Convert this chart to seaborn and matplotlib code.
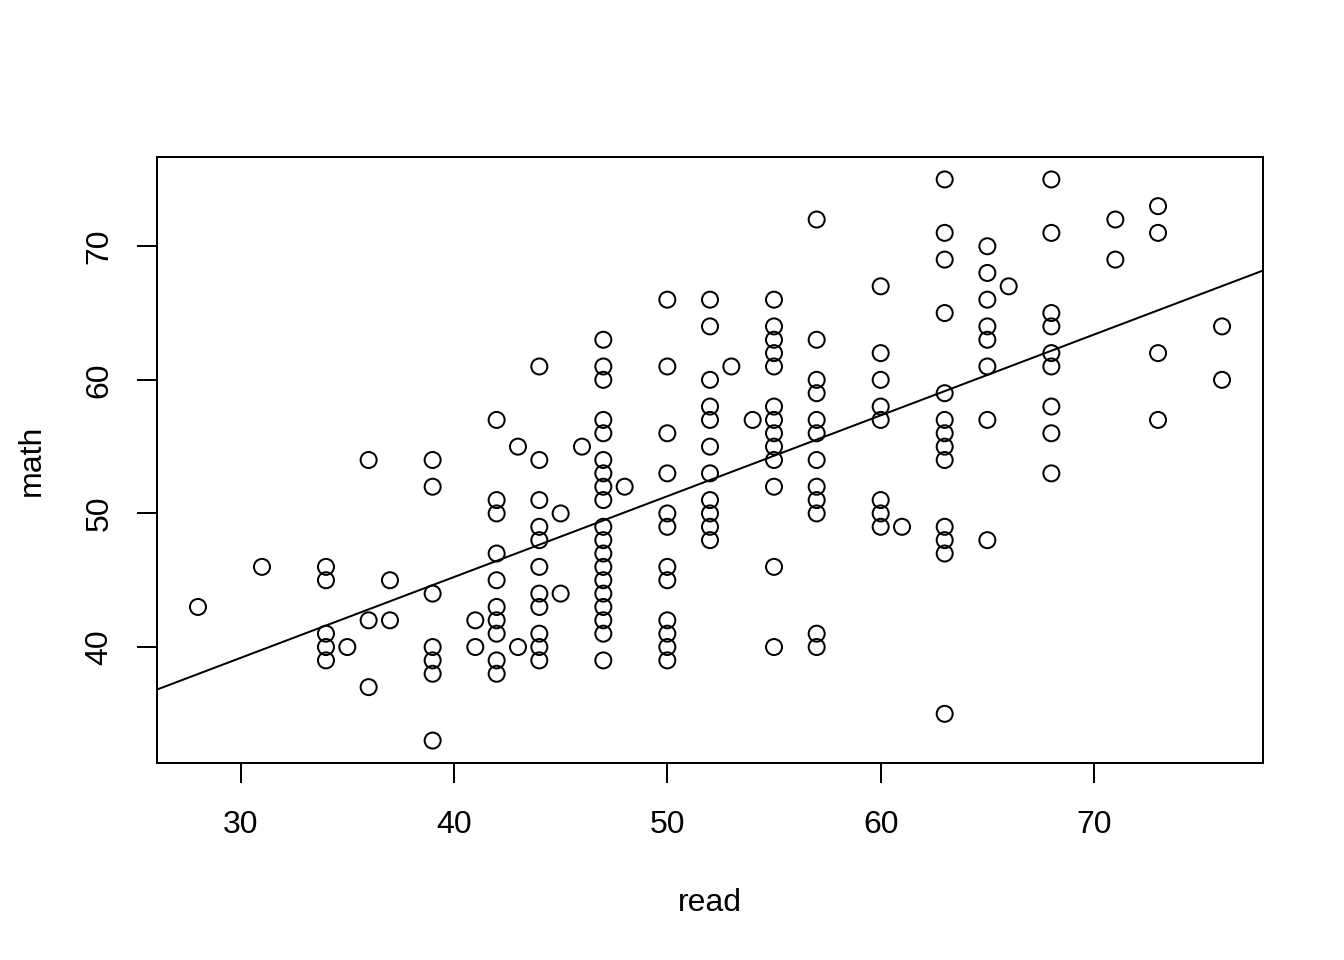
import matplotlib
matplotlib.use("Agg")
import matplotlib.pyplot as plt
import seaborn as sns
import pandas as pd

# ---- data ----
read = [28, 31,
        34, 34, 34, 34, 34,
        35,
        36, 36, 36,
        37, 37,
        39, 39, 39, 39, 39, 39, 39,
        41, 41,
        42, 42, 42, 42, 42, 42, 42, 42, 42, 42,
        43, 43,
        44, 44, 44, 44, 44, 44, 44, 44, 44, 44, 44,
        45, 45,
        46,
        47, 47, 47, 47, 47, 47, 47, 47, 47, 47, 47, 47, 47, 47, 47, 47, 47, 47, 47,
        48,
        50, 50, 50, 50, 50, 50, 50, 50, 50, 50, 50, 50,
        52, 52, 52, 52, 52, 52, 52, 52, 52, 52, 52,
        53, 54,
        55, 55, 55, 55, 55, 55, 55, 55, 55, 55, 55, 55, 55,
        57, 57, 57, 57, 57, 57, 57, 57, 57, 57, 57, 57,
        60, 60, 60, 60, 60, 60, 60, 60,
        61,
        63, 63, 63, 63, 63, 63, 63, 63, 63, 63, 63, 63, 63,
        65, 65, 65, 65, 65, 65, 65, 65,
        66,
        68, 68, 68, 68, 68, 68, 68, 68, 68,
        71, 71,
        73, 73, 73, 73,
        76, 76]
math = [43, 46,
        46, 45, 41, 40, 39,
        40,
        54, 42, 37,
        45, 42,
        54, 52, 44, 40, 39, 38, 33,
        42, 40,
        57, 51, 50, 47, 45, 43, 42, 41, 39, 38,
        55, 40,
        61, 54, 51, 49, 48, 46, 44, 43, 41, 40, 39,
        50, 44,
        55,
        63, 61, 60, 57, 56, 54, 53, 52, 51, 49, 48, 47, 46, 45, 44, 43, 42, 41, 39,
        52,
        66, 61, 56, 53, 50, 49, 46, 45, 42, 41, 40, 39,
        66, 64, 60, 58, 57, 55, 53, 51, 50, 49, 48,
        61, 57,
        66, 64, 63, 62, 61, 58, 57, 56, 55, 54, 52, 46, 40,
        72, 63, 60, 59, 57, 56, 54, 52, 51, 50, 41, 40,
        67, 62, 60, 58, 57, 51, 50, 49,
        49,
        75, 71, 69, 65, 59, 57, 56, 55, 54, 49, 48, 47, 35,
        70, 68, 66, 64, 63, 61, 57, 48,
        67,
        75, 71, 65, 64, 62, 61, 58, 56, 53,
        72, 69,
        73, 71, 62, 57,
        64, 60]

fit_intercept = 21.04
fit_slope = 0.605

x_ticks = [30, 40, 50, 60, 70]
y_ticks = [40, 50, 60, 70]

df = pd.DataFrame({"read": read, "math": math})

sns.set_style("white")
plt.rcParams["font.family"] = ["Liberation Sans", "DejaVu Sans"]
plt.rcParams["font.size"] = 12
plt.rcParams["text.color"] = "black"
plt.rcParams["axes.labelcolor"] = "black"
plt.rcParams["xtick.color"] = "black"
plt.rcParams["ytick.color"] = "black"
plt.rcParams["xtick.labelcolor"] = "black"
plt.rcParams["ytick.labelcolor"] = "black"

W, H = 1344, 960
fig = plt.figure(figsize=(7, 5), dpi=192)
ax = fig.add_axes([157 / W, 1 - 763 / H, (1263 - 157) / W, (763 - 157) / H])

sns.scatterplot(data=df, x="read", y="math", ax=ax, marker="o", s=36,
                facecolors="none", edgecolor="black", linewidth=0.75, zorder=3)

xmin, xmax = min(read), max(read)
ymin, ymax = min(math), max(math)
dx, dy = (xmax - xmin) * 0.04, (ymax - ymin) * 0.04
ax.set_xlim(xmin - dx, xmax + dx)
ax.set_ylim(ymin - dy, ymax + dy)

ax.axline((0, fit_intercept), slope=fit_slope, color="black", linewidth=0.75, zorder=2)

ax.set_xticks(x_ticks)
ax.set_yticks(y_ticks)
ax.tick_params(axis="both", direction="out", length=7.5, width=0.75, color="black",
               labelcolor="black", labelsize=12, bottom=True, left=True)
ax.tick_params(axis="x", pad=10)
ax.tick_params(axis="y", pad=8.5)
for lab in ax.get_yticklabels():
    lab.set_rotation(90)
    lab.set_va("center")

for sp in ax.spines.values():
    sp.set_visible(True)
    sp.set_color("black")
    sp.set_linewidth(0.75)

ax.set_xlabel("read", fontsize=12, labelpad=18, color="black")
ax.set_ylabel("math", fontsize=12, labelpad=14, color="black")
ax.grid(False)

fig.savefig("out.png", dpi=192)
